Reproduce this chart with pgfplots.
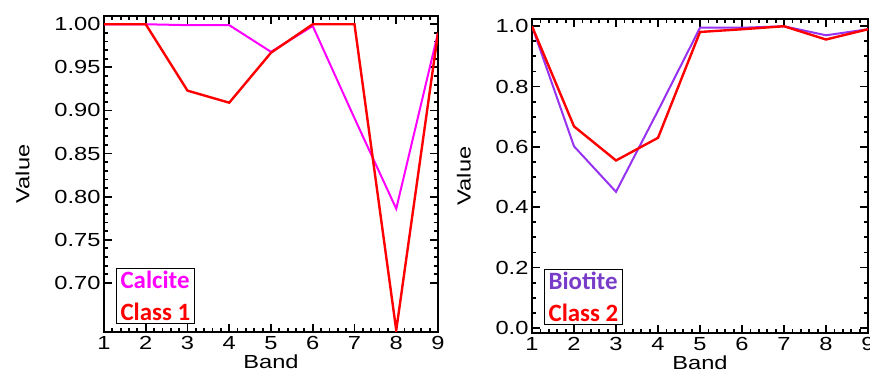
\documentclass[border=0pt]{standalone}
\usepackage{pgfplots}
\pgfplotsset{compat=1.18}
\usepackage{fontspec}
\setmainfont{Liberation Sans}
\newfontfamily\idl{Liberation Sans}[FakeStretch=1.25]
\newfontfamily\legfont{Carlito}
\definecolor{mag}{RGB}{255,0,255}
\definecolor{pur}{RGB}{150,50,240}
\definecolor{biot}{RGB}{120,60,200}
\begin{document}
\begin{tikzpicture}
\useasboundingbox (0bp,0bp) rectangle (870bp,374bp);
\pgfplotsset{
  every axis/.append style={
    scale only axis,
    anchor=south west,
    axis line style={line width=2.2bp},
    every tick/.style={black,line width=1.8bp},
    major tick length=8bp,
    minor tick length=4bp,
    tick align=inside,
    xtick={1,...,9},
    minor x tick num=4,
    xmin=1,xmax=9,
    tick label style={font=\idl\fontsize{19}{20}\selectfont},
    label style={font=\idl\fontsize{19}{20}\selectfont},
    /pgf/number format/assume math mode=true,
    xticklabel style={yshift=-1bp},
    xlabel={Band},
    ylabel={Value},
    xlabel style={yshift=2bp},
    clip=true,
  }
}
\begin{axis}[
  at={(104bp,42bp)}, width=334bp, height=316bp,
  ymin=0.643, ymax=1.0096,
  ytick={0.70,0.75,...,1.001},
  minor y tick num=4,
  yticklabel style={/pgf/number format/.cd,fixed,fixed zerofill,precision=2},
  ylabel style={yshift=18bp},
]
\addplot[mag, line width=2bp] coordinates {(1,1.0) (2,1.0) (3,0.999) (4,0.999) (5,0.968) (6,0.998) (7,0.891) (8,0.786) (9,0.99)};
\addplot[red, line width=2.4bp] coordinates {(1,1.0) (2,1.0) (3,0.923) (4,0.909) (5,0.967) (6,1.0) (7,1.0) (8,0.645) (9,0.99)};
\node[draw=black, line width=1bp, anchor=south west, align=left, inner xsep=4bp, inner ysep=3bp, font=\legfont\bfseries\fontsize{25}{32}\selectfont] at (rel axis cs:0.036,0.025) {\textcolor{mag}{Calcite}\\\textcolor{red}{Class 1}};
\end{axis}
\begin{axis}[
  at={(532bp,41bp)}, width=336bp, height=314bp,
  ymin=-0.017, ymax=1.024,
  ytick={0,0.2,...,1.001},
  minor y tick num=3,
  yticklabel style={/pgf/number format/.cd,fixed,fixed zerofill,precision=1},
  ylabel style={yshift=18bp},
]
\addplot[pur, line width=2bp] coordinates {(1,1.0) (2,0.602) (3,0.451) (4,0.72) (5,0.995) (6,0.995) (7,1.0) (8,0.97) (9,0.99)};
\addplot[red, line width=2.4bp] coordinates {(1,1.0) (2,0.668) (3,0.555) (4,0.63) (5,0.981) (6,0.99) (7,1.0) (8,0.956) (9,0.99)};
\node[draw=black, line width=1bp, anchor=south west, align=left, inner xsep=4bp, inner ysep=3bp, font=\legfont\bfseries\fontsize{25}{32}\selectfont] at (rel axis cs:0.036,0.025) {\textcolor{biot}{Biotite}\\\textcolor{red}{Class 2}};
\end{axis}
\end{tikzpicture}
\end{document}
